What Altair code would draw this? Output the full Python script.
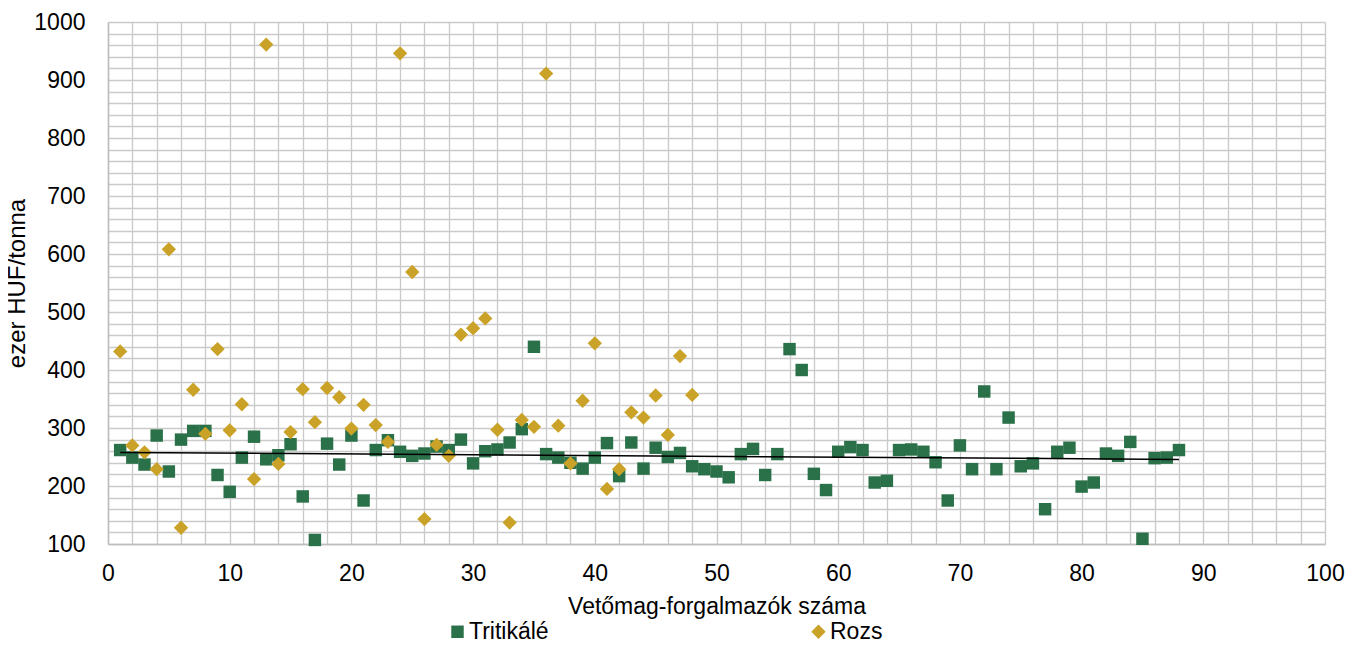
import altair as alt
import pandas as pd

# ---- data ----
x_trit = list(range(1, 89))
trit = [262, 249, 237, 287, 225, 280, 295, 295, 219, 190,
        249, 285, 246, 253, 272, 182, 107, 273, 237, 287,
        175, 262, 279, 259, 252, 256, 268, 262, 280, 239,
        260, 263, 275, 298, 440, 255, 249, 240, 230, 249,
        274, 217, 275, 230, 266, 250, 257, 234, 229, 225,
        215, 255, 264, 219, 255, 436, 400, 221, 193, 259,
        267, 262, 206, 209, 262, 263, 259, 241, 175, 270,
        229, 363, 229, 318, 234, 239, 160, 259, 266, 199,
        206, 256, 252, 276, 109, 248, 249, 262]

x_rozs = list(range(1, 49))
rozs = [432, 270, 258, 229, 608, 128, 366, 290, 436, 296,
        341, 212, 961, 238, 293, 367, 310, 369, 353, 299,
        340, 305, 276, 946, 569, 143, 271, 252, 461, 472,
        489, 297, 137, 314, 302, 911, 304, 239, 347, 446,
        195, 229, 327, 318, 356, 288, 424, 357]

series_names = ["Tritikálé", "Rozs"]
series_colors = ["#2a7048", "#c9a227"]
series_shapes = ["square", "diamond"]
series_sizes = [155, 205]

x_grid = list(range(0, 101, 2))
y_grid = list(range(100, 1001, 20))

df = pd.DataFrame({
    "x": x_trit + x_rozs,
    "y": trit + rozs,
    "series": [series_names[0]] * len(trit) + [series_names[1]] * len(rozs),
})
df_trit = pd.DataFrame({"x": x_trit, "y": trit})

FONT = "Liberation Sans"
GRID = "#cacaca"

xscale = alt.Scale(domain=[0, 100], nice=False, zero=False)
yscale = alt.Scale(domain=[100, 1000], nice=False, zero=False)

xaxis = alt.Axis(
    title="Vetőmag-forgalmazók száma",
    values=x_grid, tickCount=200, format="d",
    labelExpr="datum.value % 10 === 0 ? datum.label : ''",
    labelOverlap=False, labelFlush=False,
    grid=True, gridColor=GRID, gridWidth=1.3,
    domain=True, domainColor="#bdbdbd", domainWidth=1.5,
    ticks=False, tickSize=0,
    labelFont=FONT, labelFontSize=23, labelColor="#000000", labelPadding=18,
    titleFont=FONT, titleFontSize=23, titleFontWeight="normal", titleColor="#000000",
    titlePadding=10,
)
yaxis = alt.Axis(
    title="ezer HUF/tonna",
    values=y_grid, tickCount=200, format="d",
    labelExpr="datum.value % 100 === 0 ? datum.label : ''",
    labelOverlap=False, labelFlush=False,
    grid=True, gridColor=GRID, gridWidth=1.3,
    domain=True, domainColor="#bdbdbd", domainWidth=1.5,
    ticks=False, tickSize=0,
    labelFont=FONT, labelFontSize=23, labelColor="#000000", labelPadding=23,
    titleFont=FONT, titleFontSize=24, titleFontWeight="normal", titleColor="#000000",
    titlePadding=4,
)

points = alt.Chart(df).mark_point(filled=True, opacity=1).encode(
    x=alt.X("x:Q", scale=xscale, axis=xaxis),
    y=alt.Y("y:Q", scale=yscale, axis=yaxis),
    color=alt.Color("series:N",
                    scale=alt.Scale(domain=series_names, range=series_colors),
                    legend=alt.Legend(
                        title=None, orient="none", direction="horizontal",
                        legendX=338, legendY=598,
                        labelFont=FONT, labelFontSize=23, labelColor="#000000",
                        symbolSize=140, symbolOpacity=1, symbolStrokeWidth=0,
                        columnPadding=258, labelOffset=0, padding=0)),
    shape=alt.Shape("series:N",
                    scale=alt.Scale(domain=series_names, range=series_shapes),
                    legend=None),
    size=alt.Size("series:N",
                  scale=alt.Scale(domain=series_names, range=series_sizes),
                  legend=None),
    order=alt.Order("series_order:Q"),
).transform_calculate(series_order="datum.series === 'Tritikálé' ? 0 : 1")

trend = alt.Chart(df_trit).transform_regression("x", "y").mark_line(
    color="#000000", strokeWidth=1.5
).encode(
    x=alt.X("x:Q", scale=xscale),
    y=alt.Y("y:Q", scale=yscale),
)

chart = alt.layer(points, trend).properties(
    width=1217, height=522,
    padding={"left": 100, "top": 14, "right": 24, "bottom": 96},
    autosize=alt.AutoSizeParams(type="none"),
).configure_view(stroke=None)

chart.save("out.html", embed_options={"renderer": "svg", "actions": False})
